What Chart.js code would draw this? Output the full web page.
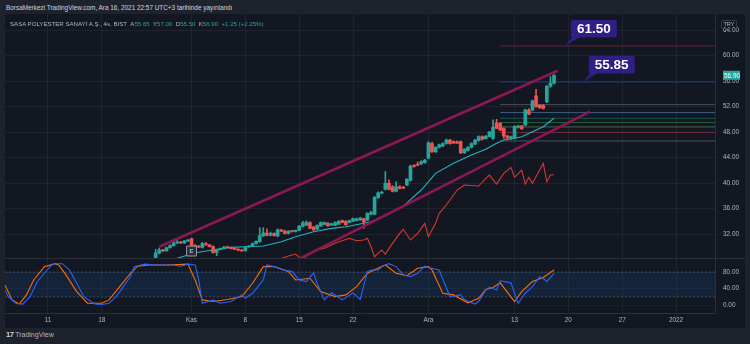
<!DOCTYPE html>
<html>
<head>
<meta charset="utf-8">
<script src="https://cdn.jsdelivr.net/npm/chart.js@4.4.1/dist/chart.umd.min.js"></script>
<style>
html, body { margin: 0; padding: 0; background: #1e222d; width: 750px; height: 344px; overflow: hidden; font-family: "Liberation Sans", Arial, sans-serif; }
#head { position: absolute; left: 6px; top: 4px; font-size: 6.4px; color: #d1d4dc; white-space: nowrap; }
#frame { position: absolute; left: 5px; top: 14px; width: 740px; height: 314px; background: #131722; }
#chart { position: absolute; left: 0; top: 0; }
#legend { position: absolute; left: 10px; top: 20px; font-size: 6.1px; color: #b2b5be; white-space: nowrap; }
#legend span.v { color: #26a69a; }
#try { position: absolute; left: 721px; top: 20px; width: 14px; height: 7px; border: 1px solid #363a45; border-radius: 1px; font-size: 5.6px; line-height: 7px; text-align: center; color: #b2b5be; }
#foot { position: absolute; left: 6px; top: 330px; font-size: 7px; color: #b2b5be; white-space: nowrap; }
#foot b { font-size: 7.5px; color: #d1d4dc; letter-spacing: -0.5px; }
</style>
</head>
<body>
<div id="head">BorsaMerkezi TradingView.com, Ara 16, 2021 22:57 UTC+3 tarihinde yayınlandı</div>
<div id="frame"><canvas id="chart" width="740" height="314"></canvas></div>
<div id="legend"></div>
<div id="try">TRY</div>
<div id="foot"><b>17</b> TradingView</div>
<script>
const symbolName = "SASA POLYESTER SANAYİ A.Ş., 4s, BIST";

// time axis: one step per 4h bar, labels at week starts
const tickBars = [0, 15, 40, 55, 70, 85, 106, 130, 145, 160, 175];
const tickLabels = ["11", "18", "Kas", "8", "15", "22", "Ara", "13", "20", "27", "2022"];
const priceTicks = [32, 36, 40, 44, 48, 52, 56, 60, 64];
const stochTicks = [0, 40, 80];

// candles, first one at bar 30
const firstBar = 30;
const opens = [28.3, 29.0, 29.5, 29.35, 29.85, 30.15, 30.6, 30.75, 30.6, 30.9,
  31.25, 30.2, 30.05, 29.9, 30.5, 30.3, 30.05, 29.1, 29.55, 29.7,
  30.0, 29.85, 29.7, 29.6, 29.45, 29.4, 30.0, 30.05, 30.5, 30.8,
  31.7, 32.15, 31.8, 32.1, 31.7, 32.65, 32.45, 32.1, 32.45, 32.4,
  32.55, 33.2, 33.4, 33.8, 33.1, 32.8, 33.25, 33.5, 33.7, 33.4,
  33.35, 33.55, 34.1, 34.0, 33.8, 34.0, 34.1, 34.2, 34.4, 34.2,
  35.1, 35.1, 37.75, 38.4, 39.0, 39.95, 39.4, 38.7, 39.4, 39.3,
  39.7, 40.4, 42.7, 42.9, 43.0, 43.2, 43.9, 46.2, 44.9, 45.6,
  45.8, 46.2, 46.75, 46.5, 46.45, 46.5, 44.75, 45.1, 45.6, 46.1,
  46.65, 47.27, 46.95, 47.27, 47.0, 49.45, 49.36, 48.57, 47.37, 46.95,
  47.0, 48.73, 48.94, 49.1, 51.45, 51.45, 53.65, 52.2, 52.2, 52.75,
  55.2, 55.65];
const highs = [29.6, 29.8, 29.6, 29.95, 30.3, 31.0, 31.25, 30.85, 31.0, 31.15,
  31.35, 30.35, 30.2, 30.7, 30.65, 30.4, 30.15, 29.65, 29.8, 30.05,
  30.1, 29.95, 29.8, 29.7, 29.55, 30.05, 30.2, 30.6, 30.95, 33.0,
  33.0, 32.8, 32.3, 32.2, 32.8, 32.75, 32.6, 32.55, 32.55, 32.65,
  33.35, 34.0, 34.05, 33.9, 33.2, 33.45, 33.9, 33.9, 33.8, 33.7,
  33.9, 34.1, 34.2, 34.1, 34.2, 34.5, 34.5, 34.6, 34.5, 35.35,
  35.6, 37.9, 38.6, 38.7, 41.8, 40.5, 39.6, 40.2, 39.6, 39.45,
  40.7, 42.8, 42.9, 43.3, 43.5, 43.7, 46.5, 46.4, 45.7, 46.1,
  46.3, 46.9, 46.85, 46.6, 46.6, 46.6, 45.4, 45.7, 46.3, 46.85,
  47.4, 47.4, 47.45, 48.1, 49.9, 50.0, 49.5, 48.7, 47.5, 47.35,
  49.0, 49.05, 49.05, 51.6, 51.66, 53.0, 54.7, 52.3, 52.3, 55.3,
  56.7, 57.0];
const lows = [28.1, 28.9, 29.25, 29.3, 29.8, 30.1, 30.5, 30.5, 30.5, 30.8,
  30.1, 29.9, 29.85, 29.8, 30.2, 29.95, 29.0, 28.6, 29.5, 29.65,
  29.8, 29.65, 29.55, 29.4, 29.3, 29.3, 29.9, 30.0, 30.4, 30.7,
  31.6, 31.7, 31.7, 31.65, 31.55, 32.35, 32.0, 32.0, 32.3, 32.3,
  32.5, 33.1, 33.3, 32.85, 32.55, 32.7, 33.2, 33.45, 33.2, 33.35,
  33.3, 33.5, 33.75, 33.4, 33.75, 33.95, 34.05, 34.15, 32.9, 34.1,
  35.0, 35.0, 37.6, 38.3, 38.9, 38.9, 38.6, 38.6, 39.05, 39.1,
  39.6, 40.3, 42.5, 42.7, 42.9, 43.1, 43.8, 44.8, 44.8, 45.5,
  45.7, 46.1, 46.1, 46.2, 46.2, 44.6, 44.6, 45.0, 45.5, 46.0,
  46.55, 46.75, 46.9, 47.2, 46.85, 48.5, 48.2, 47.0, 47.0, 46.85,
  46.9, 48.6, 48.4, 49.0, 50.7, 51.3, 51.9, 51.7, 51.6, 52.6,
  55.0, 55.5];
const closes = [29.05, 29.5, 29.35, 29.85, 30.2, 30.6, 30.75, 30.6, 30.9, 31.0,
  30.2, 30.05, 29.95, 30.5, 30.3, 30.05, 29.1, 29.55, 29.7, 29.95,
  29.85, 29.7, 29.6, 29.45, 29.35, 30.0, 30.1, 30.5, 30.85, 31.75,
  32.15, 31.8, 32.1, 31.75, 32.65, 32.45, 32.1, 32.45, 32.4, 32.55,
  33.25, 33.75, 33.8, 32.9, 32.65, 33.35, 33.8, 33.8, 33.3, 33.6,
  33.8, 34.0, 33.8, 33.45, 34.1, 34.4, 34.4, 34.5, 33.9, 35.25,
  35.4, 37.75, 38.45, 38.5, 39.95, 39.0, 38.7, 39.4, 39.15, 39.2,
  40.6, 42.66, 42.6, 42.8, 43.35, 43.6, 46.3, 44.9, 45.6, 46.0,
  46.2, 46.75, 46.2, 46.25, 46.25, 44.75, 45.3, 45.6, 46.2, 46.75,
  47.27, 46.85, 47.35, 48.0, 48.75, 48.57, 48.31, 47.37, 47.06, 47.27,
  48.84, 48.94, 48.5, 51.45, 50.8, 52.9, 51.97, 51.8, 51.7, 55.2,
  55.65, 56.9];

// moving average line (teal)
const maBars = [33, 36, 41, 46, 51, 55, 60, 65, 69, 74, 79, 83, 88, 90, 94, 99, 104, 108, 113, 118, 122, 125, 127, 130, 132, 135, 138, 141];
const maVals = [27.7, 28.19, 29.07, 29.49, 29.91, 30.01, 30.12, 30.79, 31.58, 32.36, 32.89, 33.15, 33.68, 33.93, 34.85, 36.39, 38.9, 41.52, 43.09, 44.39, 45.29, 46.23, 46.75, 47.01, 47.26, 48.05, 48.83, 50.15];

// overlay line (red)
const redBars = [62, 66, 67, 69, 70, 71, 73, 75, 77, 79, 80, 82, 84, 86, 88, 89, 90, 91, 92, 93, 94, 96, 98, 99, 101, 103, 105, 106, 108, 109, 111, 114, 116, 120, 122, 123, 125, 127, 129, 130, 132, 133, 134, 135, 138, 139, 140, 141];
const redVals = [27.6, 28.35, 28.55, 28.86, 28.35, 28.19, 28.86, 29.49, 29.76, 30.27, 30.54, 30.95, 31.33, 30.95, 31.06, 31.33, 30.0, 28.44, 29.0, 29.5, 28.86, 30.54, 32.1, 32.74, 31.06, 32.1, 33.68, 31.58, 33.68, 35.25, 36.55, 38.9, 39.69, 39.53, 40.74, 41.25, 39.84, 41.52, 42.46, 40.89, 42.04, 39.84, 40.89, 39.95, 43.09, 40.2, 41.25, 41.3];

// channel trend lines: [bar, price] at both ends
const upperLine = [[31, 30.0], [142, 57.6]];
const lowerLine = [[70, 28.1], [151, 51.2]];

// fibonacci levels drawn to the right
const fibStart = 126;
const fibPrices = [46.6, 47.95, 48.8, 49.5, 50.15, 51.05, 52.3, 55.85, 61.5];
const fibColors = ["rgba(120,123,134,0.55)", "rgba(242,54,69,0.45)", "rgba(129,199,132,0.45)", "rgba(76,175,80,0.45)",
  "rgba(8,153,129,0.5)", "rgba(100,181,246,0.45)", "rgba(120,123,134,0.55)", "rgba(41,98,255,0.45)", "rgba(242,54,69,0.4)"];
const calloutBars = [144, 149];
const calloutLevels = [8, 7];

// event marker
const eventBars = [40];
const eventVals = [29.33];
const eventLabels = ["E"];

// stochastic %K (blue) and %D (orange)
const kBars = [-12, -11, -10, -9, -7, -5, -3, -1, 1, 2, 4, 6, 8, 10, 13, 15, 17, 19, 21, 23, 24, 27, 30, 33, 35, 37, 39, 41, 42, 43, 46, 48, 51, 54, 55, 57, 60, 61, 63, 66, 68, 70, 72, 74, 75, 77, 79, 82, 85, 87, 89, 90, 92, 93, 95, 97, 99, 101, 103, 105, 106, 109, 112, 115, 116, 119, 120, 122, 123, 125, 126, 129, 131, 133, 135, 137, 138, 139, 141];
const kVals = [36.8, 20, 12.7, 4.8, 3, 20.7, 56.7, 77, 97, 100, 100, 85, 53, 20.7, 3, 2, 5, 21, 45, 69, 93, 99, 97, 97, 97, 94, 99, 97, 61, 5, 13, 5, 9, 25, 17, 29, 61, 97, 93, 85, 81, 61, 57, 78, 53, 13, 30, 13, 30, 14, 81, 85, 85, 93, 100, 93, 73, 69, 77, 94, 91, 85, 21, 25, 14, 3, 9, 37, 43, 37, 59, 54, 5, 29, 45, 69, 65, 57, 77];
const dBars = [-12, -10, -8, -6, -4, -1, 2, 3, 5, 8, 11, 15, 17, 20, 23, 25, 28, 33, 39, 41, 43, 46, 50, 54, 57, 60, 63, 67, 69, 73, 76, 80, 83, 86, 89, 93, 94, 97, 100, 103, 106, 107, 110, 113, 117, 120, 122, 124, 126, 130, 132, 135, 138, 141];
const dVals = [49, 13, 3, 25, 61, 93, 100, 97, 73, 33, 5, 5, 13, 45, 77, 94, 97, 97, 99, 61, 13, 9, 14, 21, 53, 93, 93, 81, 61, 65, 33, 21, 25, 45, 77, 93, 97, 77, 71, 89, 93, 85, 29, 25, 6, 17, 38, 43, 54, 9, 33, 57, 67, 85];
const bandHigh = 80;
const bandLow = 20;

const upColor = "#26a69a";
const downColor = "#ef5350";
const axisFont = { family: "Liberation Sans", size: 6.4 };

const xMin = -11.98, xMax = 185.86;

const candleColors = opens.map((o, k) => closes[k] >= o ? upColor : downColor);
const pts = (bars, vals) => bars.map((b, k) => ({ x: b, y: vals[k] }));

// legend line from the last candle
(function () {
  const n = closes.length - 1;
  const chg = closes[n] - closes[n - 1];
  const pct = chg / closes[n - 1] * 100;
  const v = (t) => '<span class="v">' + t + '</span>';
  document.getElementById("legend").innerHTML = symbolName +
    "&nbsp;&nbsp;A" + v(opens[n].toFixed(2)) + "&nbsp;&nbsp;Y" + v(highs[n].toFixed(2)) +
    "&nbsp;&nbsp;D" + v(lows[n].toFixed(2)) + "&nbsp;&nbsp;K" + v(closes[n].toFixed(2)) +
    "&nbsp;&nbsp;" + v((chg >= 0 ? "+" : "") + chg.toFixed(2) + " (" + (chg >= 0 ? "+" : "") + pct.toFixed(2) + "%)");
})();

const datasets = [];

// stochastic band
datasets.push({ type: "line", yAxisID: "ys", data: [{ x: xMin, y: bandHigh }, { x: xMax, y: bandHigh }],
  borderColor: "rgba(120,123,134,0.45)", borderWidth: 1, borderDash: [2, 2], pointRadius: 0,
  fill: "+1", backgroundColor: "rgba(33,150,243,0.1)", order: 20 });
datasets.push({ type: "line", yAxisID: "ys", data: [{ x: xMin, y: bandLow }, { x: xMax, y: bandLow }],
  borderColor: "rgba(120,123,134,0.45)", borderWidth: 1, borderDash: [2, 2], pointRadius: 0, order: 20 });
datasets.push({ type: "line", yAxisID: "ys", data: pts(dBars, dVals), borderColor: "#ff6d00", borderWidth: 1.1, pointRadius: 0, order: 3 });
datasets.push({ type: "line", yAxisID: "ys", data: pts(kBars, kVals), borderColor: "#2962ff", borderWidth: 1.1, pointRadius: 0, order: 2 });

// fib levels
fibPrices.forEach((p, k) => {
  datasets.push({ type: "line", yAxisID: "y", data: [{ x: fibStart, y: p }, { x: xMax, y: p }],
    borderColor: fibColors[k], borderWidth: 1, pointRadius: 0, order: 15 });
});

datasets.push({ type: "line", yAxisID: "y", data: pts(redBars, redVals), borderColor: "#d7392f", borderWidth: 1.1, pointRadius: 0, order: 12 });
datasets.push({ type: "line", yAxisID: "y", data: pts(maBars, maVals), borderColor: "#1fb5c4", borderWidth: 1.1, pointRadius: 0, order: 11 });

datasets.push({ type: "bar", yAxisID: "y", grouped: false, barThickness: 1,
  data: opens.map((o, k) => ({ x: firstBar + k, y: [lows[k], highs[k]] })),
  backgroundColor: candleColors, order: 9 });
datasets.push({ type: "bar", yAxisID: "y", grouped: false, barThickness: 3, minBarLength: 1,
  data: opens.map((o, k) => ({ x: firstBar + k, y: [o, closes[k]] })),
  backgroundColor: candleColors, order: 8 });

[upperLine, lowerLine].forEach((ln) => {
  datasets.push({ type: "line", yAxisID: "y", data: ln.map((p) => ({ x: p[0], y: p[1] })),
    borderColor: "#8c1853", borderWidth: 2.6, pointRadius: 0, order: 6 });
});

datasets.push({ type: "line", yAxisID: "y", showLine: false, data: pts(eventBars, eventVals),
  pointStyle: "rect", pointRadius: 7, pointBorderColor: "#9598a1", pointBackgroundColor: "#2a2e39",
  pointBorderWidth: 1, order: 1 });
const eventIndex = datasets.length - 1;

// keep every dataset inside its own pane
const paneClip = {
  id: "paneClip",
  beforeDatasetDraw(chart, args) {
    const s = chart.scales[args.meta.yAxisID];
    const a = chart.chartArea;
    chart.ctx.save();
    chart.ctx.beginPath();
    chart.ctx.rect(a.left, s.top, a.right - a.left, s.bottom - s.top);
    chart.ctx.clip();
  },
  afterDatasetDraw(chart) {
    chart.ctx.restore();
  }
};

const overlay = {
  id: "overlay",
  beforeDatasetsDraw(chart) {
    const ctx = chart.ctx, a = chart.chartArea, y = chart.scales.y;
    ctx.save();
    ctx.strokeStyle = "#2a2e39";
    ctx.lineWidth = 1;
    ctx.beginPath();
    ctx.moveTo(a.left, Math.round(y.bottom) + 0.5);
    ctx.lineTo(chart.width, Math.round(y.bottom) + 0.5);
    ctx.stroke();
    ctx.restore();
  },
  afterDatasetsDraw(chart) {
    const ctx = chart.ctx, x = chart.scales.x, y = chart.scales.y;
    ctx.save();
    // event letters
    const meta = chart.getDatasetMeta(eventIndex);
    ctx.fillStyle = "#b2b5be";
    ctx.font = "bold 6px 'Liberation Sans'";
    ctx.textAlign = "center";
    ctx.textBaseline = "middle";
    meta.data.forEach((pt, k) => ctx.fillText(eventLabels[k], pt.x, pt.y + 0.5));

    // value callouts
    calloutBars.forEach((b, k) => {
      const val = fibPrices[calloutLevels[k]];
      const px = x.getPixelForValue(b), py = y.getPixelForValue(val);
      const bl = px + 6, bb = py - 8.5, bw = 46, bh = 17.5;
      ctx.fillStyle = "#2f1f86";
      ctx.beginPath();
      ctx.moveTo(px, py);
      ctx.lineTo(bl + 2, bb - 1);
      ctx.lineTo(bl + 10, bb - 1);
      ctx.closePath();
      ctx.fill();
      ctx.beginPath();
      ctx.roundRect(bl, bb - bh, bw, bh, 2);
      ctx.fill();
      ctx.fillStyle = "#ffffff";
      ctx.font = "bold 13.5px 'Liberation Sans'";
      ctx.fillText(val.toFixed(2), bl + bw / 2, bb - bh / 2 + 0.5);
    });

    // last price tag on the axis
    const last = closes[closes.length - 1];
    const ly = y.getPixelForValue(last);
    ctx.fillStyle = upColor;
    ctx.fillRect(y.left + 8, ly - 4.5, 17, 9);
    ctx.fillStyle = "#ffffff";
    ctx.font = "6.4px 'Liberation Sans'";
    ctx.textAlign = "left";
    ctx.fillText(last.toFixed(2), y.left + 9, ly + 0.5);
    ctx.restore();
  }
};

// no label padding: panes fill the frame exactly
const noPad = (s) => { s.paddingTop = 0; s.paddingBottom = 0; s.paddingLeft = 0; s.paddingRight = 0; };

new Chart(document.getElementById("chart"), {
  type: "bar",
  data: { datasets },
  plugins: [paneClip, overlay],
  options: {
    responsive: false,
    animation: false,
    maintainAspectRatio: false,
    layout: { padding: 0, autoPadding: false },
    plugins: { legend: { display: false }, tooltip: { enabled: false } },
    scales: {
      x: {
        type: "linear", min: xMin, max: xMax, offset: false,
        grid: { color: "rgba(42,46,57,0.55)", drawTicks: false, offset: false },
        border: { color: "#2a2e39" },
        ticks: { color: "#b2b5be", font: axisFont, padding: 3, autoSkip: false, maxRotation: 0,
          callback: (v) => tickLabels[tickBars.indexOf(v)] },
        afterBuildTicks: (s) => { s.ticks = tickBars.map((v) => ({ value: v })); },
        afterFit: (s) => { s.height = 15; noPad(s); }
      },
      y: {
        type: "linear", position: "right", stack: "panes", stackWeight: 244,
        min: 28.24, max: 66.51,
        grid: { color: "rgba(42,46,57,0.55)", drawTicks: false },
        border: { color: "#2a2e39" },
        ticks: { color: "#b2b5be", font: axisFont, padding: 8, callback: (v) => v.toFixed(2) },
        afterBuildTicks: (s) => { s.ticks = priceTicks.map((v) => ({ value: v })); },
        afterFit: (s) => { s.width = 30; noPad(s); }
      },
      ys: {
        type: "linear", position: "right", stack: "panes", stackWeight: 55,
        min: -18.5, max: 113.7,
        grid: { color: "rgba(42,46,57,0.4)", drawTicks: false },
        border: { color: "#2a2e39" },
        ticks: { color: "#b2b5be", font: axisFont, padding: 8, callback: (v) => v.toFixed(2) },
        afterBuildTicks: (s) => { s.ticks = stochTicks.map((v) => ({ value: v })); },
        afterFit: (s) => { s.width = 30; noPad(s); }
      }
    }
  }
});
</script>
</body>
</html>
